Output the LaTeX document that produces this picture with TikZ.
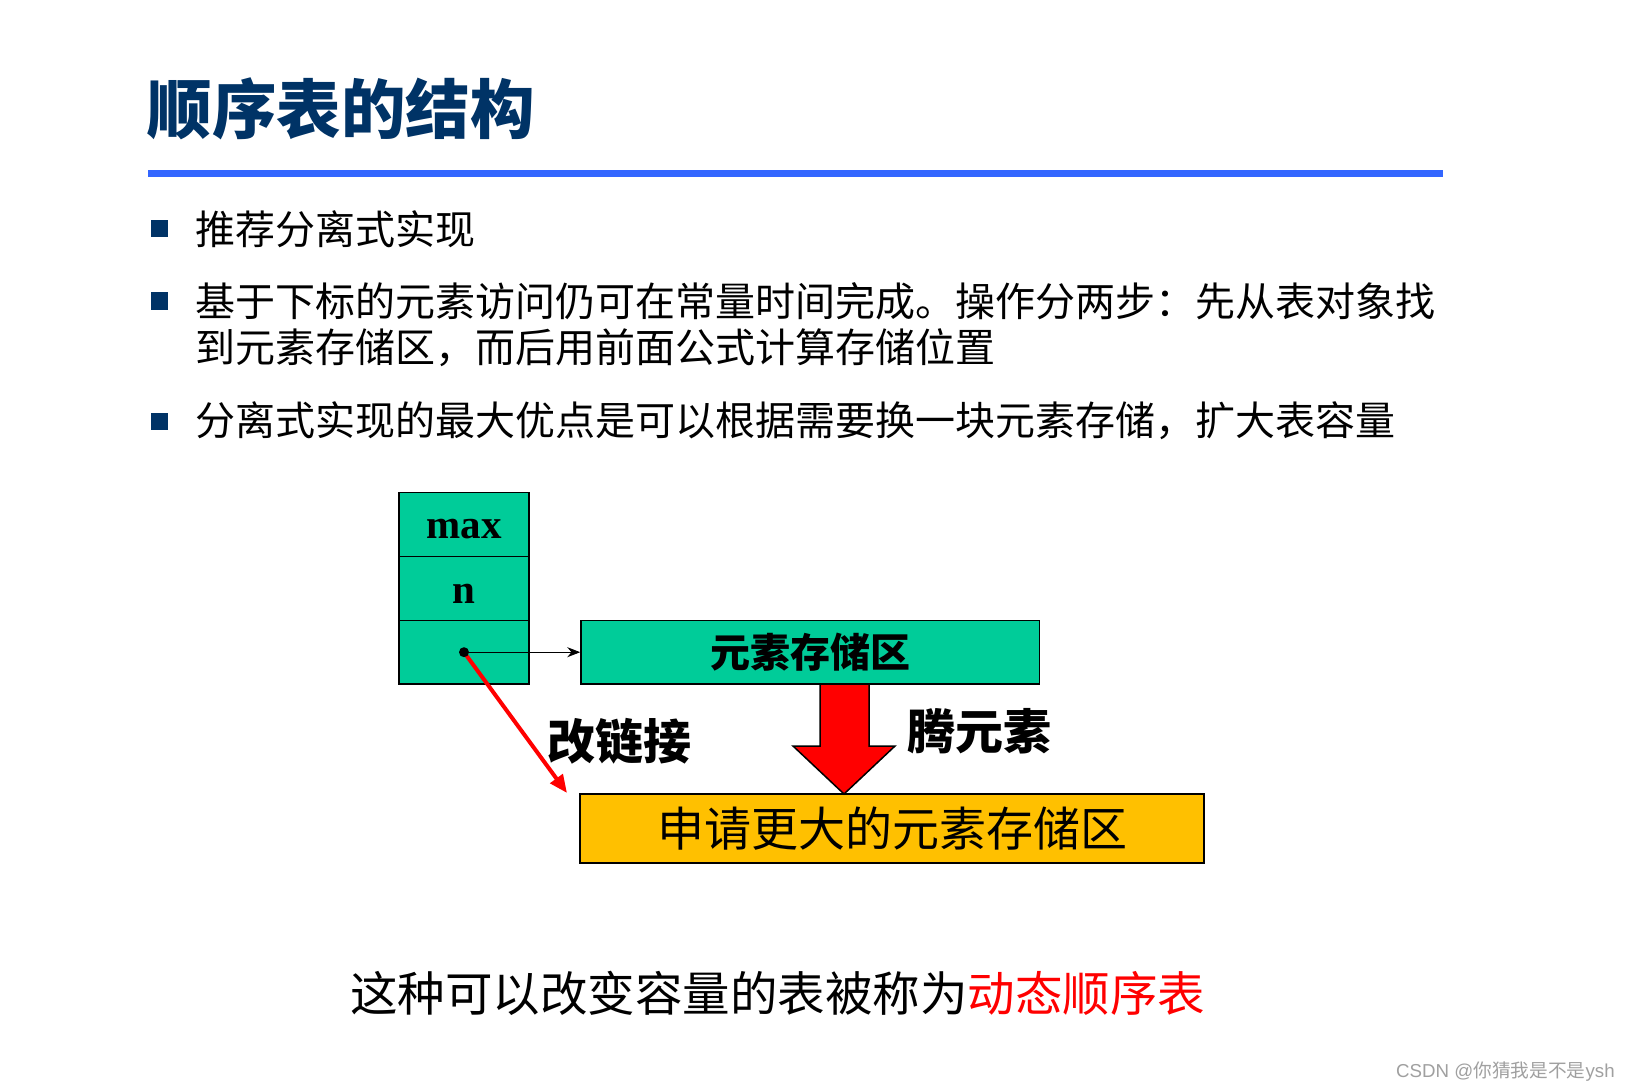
\documentclass[tikz,border=0pt]{standalone}
\usepackage{fontspec}
\setmainfont{Liberation Serif}
\newfontfamily\cjk{Noto Sans CJK SC}
\newfontfamily\arialf{Liberation Sans}
\usetikzlibrary{arrows.meta}
\definecolor{titleblue}{RGB}{0,51,102}
\definecolor{lineblue}{RGB}{51,102,255}
\definecolor{teal}{RGB}{0,204,153}
\definecolor{gold}{RGB}{255,192,0}
\definecolor{myred}{RGB}{255,0,0}
\definecolor{wmgray}{RGB}{160,160,160}
\tikzset{
  bodytext/.style={anchor=west,inner sep=0pt,font=\cjk\fontsize{40}{44}\selectfont},
  bulletsq/.style={fill=titleblue,minimum size=17pt,inner sep=0pt},
  cell/.style={draw=black,line width=1.5pt,fill=teal,minimum width=130pt,minimum height=63.8pt,inner sep=0pt},
  celltext/.style={inner sep=0pt,font=\bfseries\fontsize{41}{44}\selectfont},
  bigtext/.style={inner sep=0pt,font=\cjk\bfseries\fontsize{48}{52}\selectfont},
}
\begin{document}
\begin{tikzpicture}[x=1pt,y=-1pt]
\useasboundingbox (0,0) rectangle (1630,1091);
\fill[white] (0,0) rectangle (1630,1091);
% title
\node[anchor=west,inner sep=0pt,text=titleblue,font=\cjk\bfseries\fontsize{64.5}{68}\selectfont] (title) at (147.5,109) {顺序表的结构};
\fill[lineblue] (148,170) rectangle (1443,177);
% bullets
\node[bulletsq] (s1) at (159,229) {};
\node[bodytext] (t1) at (195,229) {推荐分离式实现};
\node[bulletsq] (s2) at (159,301) {};
\node[bodytext] (t2) at (195,301) {基于下标的元素访问仍可在常量时间完成。操作分两步：先从表对象找};
\node[bodytext] (t2b) at (195,348) {到元素存储区，而后用前面公式计算存储位置};
\node[bulletsq] (s3) at (159,421) {};
\node[bodytext] (t3) at (195,421) {分离式实现的最大优点是可以根据需要换一块元素存储，扩大表容量};
% table object
\node[cell] (maxcell) at (464,524.6) {};
\node[cell] (ncell) at (464,588.4) {};
\node[cell] (pcell) at (464,652.2) {};
\node[celltext] (maxlabel) at ([yshift=-4pt]maxcell.center) {max};
\node[celltext] (nlabel) at ([yshift=-5pt]ncell.center) {n};
\coordinate (dot) at (pcell.center);
% storage
\node[draw=black,line width=1.5pt,fill=teal,minimum width=458.5pt,minimum height=63.6pt,inner sep=0pt,font=\cjk\bfseries\fontsize{40}{44}\selectfont] (store) at (810.25,652.2) {元素存储区};
% new storage
\node[draw=black,line width=2pt,fill=gold,minimum width=624pt,minimum height=69pt,inner sep=0pt,font=\cjk\fontsize{47}{50}\selectfont] (newstore) at (892,828.5) {申请更大的元素存储区};
% big arrow
\filldraw[fill=myred,draw=black,line width=1.5pt] (820,684) -- (869,684) -- (869,746) -- (895,746) -- (844,794) -- (793,746) -- (820,746) -- cycle;
% connectors
\draw[line width=1pt,-{Stealth[length=13pt,width=10pt]}] (dot) -- (store.west);
\coordinate (redtip) at (567,793);
\draw[myred,line width=4pt,-{Triangle[length=18pt,width=15pt]}] (dot) -- (redtip);
\fill[black] (dot) circle (5pt);
% labels
\node[bigtext] (relink) at (619.5,741) {改链接};
\node[bigtext] (move) at (979,731) {腾元素};
% bottom
\node[anchor=west,inner sep=0pt,font=\cjk\fontsize{47.5}{50}\selectfont] (bottom) at (350,993) {这种可以改变容量的表被称为\textcolor{myred}{动态顺序表}};
% watermark
\node[anchor=west,inner sep=0pt,text=wmgray,font=\fontsize{18.7}{20}\selectfont] (wm) at (1396,1072) {{\arialf CSDN @}{\cjk 你猜我是不是}{\arialf ysh}};
\end{tikzpicture}
\end{document}
